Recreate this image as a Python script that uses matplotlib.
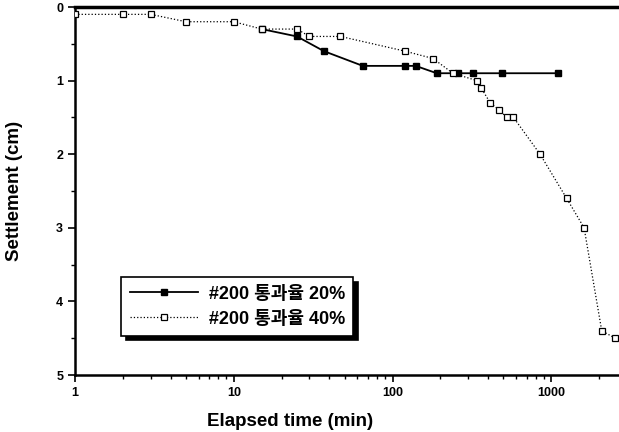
import matplotlib
matplotlib.use('Agg')
import matplotlib.pyplot as plt
from matplotlib.ticker import FixedLocator, LogLocator, NullFormatter, MultipleLocator

plt.rcParams['font.family'] = ['Liberation Sans', 'Noto Sans CJK KR', 'DejaVu Sans']
plt.rcParams['font.weight'] = 'bold'

# 통과율 20% (filled squares)
t_20 = [15, 25, 37, 65, 120, 140, 190, 260, 320, 490, 1100]
s_20 = [0.3, 0.4, 0.6, 0.8, 0.8, 0.8, 0.9, 0.9, 0.9, 0.9, 0.9]

# 통과율 40% (open squares)
t_40 = [1, 2, 3, 5, 10, 15, 25, 30, 47, 120, 180, 240, 340, 362, 412, 470, 525, 578, 850, 1250, 1610, 2080, 2530]
s_40 = [0.1, 0.1, 0.1, 0.2, 0.2, 0.3, 0.3, 0.4, 0.4, 0.6, 0.7, 0.9, 1.0, 1.1, 1.3, 1.4, 1.5, 1.5, 2.0, 2.6, 3.0, 4.4, 4.5]

labels = ['#200 통과율 20%', '#200 통과율 40%']
x_ticks = [1, 10, 100, 1000]
x_ticklabels = ['1', '10', '100', '1000']
y_ticks = [0, 1, 2, 3, 4, 5]

fig = plt.figure(figsize=(6.19, 4.32), dpi=100)
ax = fig.add_axes([75/619, 57/432, 552/619, 368/432])

ax.plot(t_20, s_20, color='black', linestyle='-', linewidth=1.3, marker='s',
        markersize=5, markerfacecolor='black', markeredgecolor='black',
        label=labels[0], zorder=3)
ax.plot(t_40, s_40, color='black', linestyle=':', linewidth=0.9, marker='s',
        markersize=5, markerfacecolor='white', markeredgecolor='black',
        markeredgewidth=0.9, label=labels[1], zorder=4)

ax.set_xscale('log')
ax.set_xlim(1, 3000)
ax.set_ylim(5, 0)

ax.xaxis.set_major_locator(FixedLocator(x_ticks))
ax.set_xticklabels(x_ticklabels, fontsize=9, fontweight='bold')
ax.xaxis.set_minor_locator(LogLocator(base=10, subs=range(2, 10)))
ax.xaxis.set_minor_formatter(NullFormatter())
ax.set_yticks(y_ticks)
ax.set_yticklabels([str(v) for v in y_ticks], fontsize=9, fontweight='bold')
ax.yaxis.set_minor_locator(MultipleLocator(0.5))

ax.tick_params(which='major', direction='out', length=5, width=1.2)
ax.tick_params(which='minor', direction='out', length=3, width=1)

for sp in ['left', 'bottom']:
    ax.spines[sp].set_linewidth(1.8)
ax.spines['top'].set_linewidth(2.5)
ax.spines['right'].set_visible(False)

ax.set_ylabel('Settlement (cm)', fontsize=13.5, fontweight='bold', labelpad=24)
fig.text(290/619, 1 - 413/432, 'Elapsed time (min)', fontsize=13.5,
         fontweight='bold', ha='center', va='top')

leg = ax.legend(loc='upper left', bbox_to_anchor=(41/552, 1 - 265/368),
                fontsize=13, frameon=True, fancybox=False,
                shadow={'color': 'black', 'alpha': 1, 'ox': 3, 'oy': -3},
                handlelength=3.8, handletextpad=0.6, borderpad=0.45,
                labelspacing=0.45, borderaxespad=0.3, edgecolor='black')
leg.get_frame().set_linewidth(1.2)
for t in leg.get_texts():
    t.set_fontweight('bold')

fig.savefig('out.png', dpi=100)
